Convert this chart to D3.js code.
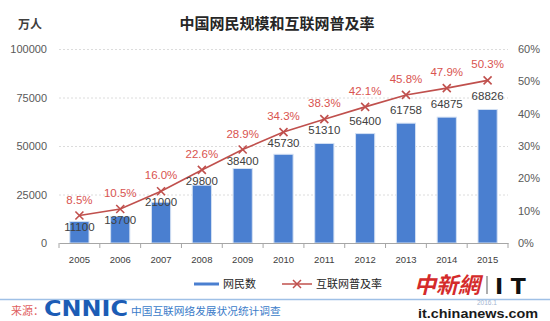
<!DOCTYPE html>
<html><head><meta charset="utf-8">
<script src="https://cdn.jsdelivr.net/npm/d3@7"></script>
<style>
body{margin:0;background:#fff;}
svg{display:block;font-family:"Liberation Sans",Arial,"Noto Sans CJK SC",sans-serif;}
.cjk{font-family:"Noto Sans CJK SC",sans-serif;}
</style></head><body>
<svg id="c" width="550" height="321"></svg>
<script>
const years = ["2005","2006","2007","2008","2009","2010","2011","2012","2013","2014","2015"];
const netizens = [11100,13700,21000,29800,38400,45730,51310,56400,61758,64875,68826];
const penetration = [8.5,10.5,16.0,22.6,28.9,34.3,38.3,42.1,45.8,47.9,50.3];
const leftTicks = [0,25000,50000,75000,100000];
const rightTicks = [0,10,20,30,40,50,60];

const svg = d3.select("#c");
const L = 59, R = 508, T = 49, B = 243;

const x = d3.scaleBand().domain(years).range([L, R]).paddingInner(0.53).paddingOuter(0.265);
const xb = d3.scaleBand().domain(years).range([L, R]);
const yL = d3.scaleLinear().domain([0,100000]).range([B, T]);
const yR = d3.scaleLinear().domain([0,60]).range([B, T]);

// title
svg.append("text").attr("class","cjk").attr("x",277).attr("y",29).attr("text-anchor","middle")
  .attr("font-size",15).attr("font-weight","bold").attr("fill","#262626").text("中国网民规模和互联网普及率");
svg.append("text").attr("class","cjk").attr("x",30).attr("y",29).attr("text-anchor","middle")
  .attr("font-size",12).attr("font-weight","bold").attr("fill","#404040").text("万人");

// gridlines
svg.append("g").selectAll("line").data(leftTicks.filter(d=>d>0)).join("line")
  .attr("x1",L).attr("x2",R).attr("y1",d=>yL(d)+0.5).attr("y2",d=>yL(d)+0.5)
  .attr("stroke","#dcdcdc").attr("stroke-dasharray","2,2");

// left axis
const gl = svg.append("g").attr("transform",`translate(${L},0)`)
  .call(d3.axisLeft(yL).tickValues(leftTicks).tickSize(0).tickPadding(12).tickFormat(d3.format("d")));
gl.select(".domain").remove();
gl.selectAll("text").attr("font-size",11).attr("fill","#595959").attr("font-family","Liberation Sans, Arial");

// right axis
const gr = svg.append("g").attr("transform",`translate(${R},0)`)
  .call(d3.axisRight(yR).tickValues(rightTicks).tickSize(0).tickPadding(10).tickFormat(d=>d+"%"));
gr.select(".domain").remove();
gr.selectAll("text").attr("font-size",11).attr("fill","#595959").attr("font-family","Liberation Sans, Arial");

// bars
svg.append("g").selectAll("rect").data(netizens).join("rect")
  .attr("x",(d,i)=>x(years[i])).attr("width",x.bandwidth())
  .attr("y",d=>yL(d)).attr("height",d=>B-yL(d))
  .attr("fill","#4a7fd0").attr("stroke","#d3e0f3").attr("stroke-width",1);

// x axis
const gx = svg.append("g").attr("transform",`translate(0,${B})`)
  .call(d3.axisBottom(xb).tickSize(0).tickPadding(13));
gx.select(".domain").attr("stroke","#a6a6a6");
gx.selectAll("text").attr("font-size",9.5).attr("fill","#404040").attr("font-family","Liberation Sans, Arial");
gx.append("g").selectAll("line").data(d3.range(years.length+1)).join("line")
  .attr("x1",i=>L+i*xb.step()).attr("x2",i=>L+i*xb.step()).attr("y1",0).attr("y2",5)
  .attr("stroke","#a6a6a6");

// line
const cx = i => x(years[i]) + x.bandwidth()/2;
const red = "#c0504d";
svg.append("path").datum(penetration)
  .attr("d", d3.line().x((d,i)=>cx(i)).y(d=>yR(d)))
  .attr("fill","none").attr("stroke",red).attr("stroke-width",1.6);
const m = 4;
svg.append("g").selectAll("path").data(penetration).join("path")
  .attr("d",(d,i)=>`M${cx(i)-m},${yR(d)-m}L${cx(i)+m},${yR(d)+m}M${cx(i)-m},${yR(d)+m}L${cx(i)+m},${yR(d)-m}`)
  .attr("stroke",red).attr("stroke-width",1.6);

// percent labels
svg.append("g").selectAll("text").data(penetration).join("text")
  .attr("x",(d,i)=>cx(i)).attr("y",d=>yR(d)-12).attr("text-anchor","middle")
  .attr("font-size",11.5).attr("fill","#d9534f").text(d=>d.toFixed(1)+"%");

// value labels (avoid line markers)
svg.append("g").selectAll("text").data(netizens).join("text")
  .attr("x",(d,i)=>cx(i))
  .attr("y",(d,i)=>Math.max(yL(d)-13, yR(penetration[i])+11)+4)
  .attr("text-anchor","middle").attr("font-size",11.5).attr("fill","#404040").text(d=>d);

// legend
const lg = svg.append("g");
lg.append("line").attr("x1",194).attr("x2",219).attr("y1",284).attr("y2",284).attr("stroke","#4a7fd0").attr("stroke-width",3);
lg.append("text").attr("class","cjk").attr("x",223).attr("y",288).attr("font-size",11).attr("fill","#262626").text("网民数");
lg.append("line").attr("x1",282).attr("x2",312).attr("y1",284).attr("y2",284).attr("stroke",red).attr("stroke-width",1.5);
lg.append("path").attr("d","M293,280L301,288M293,288L301,280").attr("stroke",red).attr("stroke-width",1.5);
lg.append("text").attr("class","cjk").attr("x",316).attr("y",288).attr("font-size",11).attr("fill","#262626").text("互联网普及率");

// footer
svg.append("line").attr("x1",0).attr("x2",550).attr("y1",299.5).attr("y2",299.5).attr("stroke","#9fc0e6").attr("stroke-width",1.5);
svg.append("text").attr("class","cjk").attr("x",11).attr("y",315).attr("font-size",11).attr("fill","#e06060").text("来源：");
svg.append("text").attr("x",44).attr("y",316).attr("font-size",21).attr("font-weight","900")
  .attr("font-family","DejaVu Sans, Liberation Sans").attr("fill","#1c5cb5").attr("textLength",84).attr("lengthAdjust","spacingAndGlyphs").text("CNNIC");
svg.append("text").attr("class","cjk").attr("x",131).attr("y",315).attr("font-size",10.7).attr("fill","#3b7cc9").text("中国互联网络发展状况统计调查");

svg.append("text").attr("x",477).attr("y",305).attr("font-size",6.5).attr("fill","#9fb4d0").text("2016.1");
svg.append("text").attr("x",418).attr("y",318).attr("font-size",13.5).attr("font-weight","bold").attr("fill","#1a1a1a")
  .attr("textLength",120).attr("lengthAdjust","spacingAndGlyphs").text("it.chinanews.com");
svg.append("text").attr("x",414).attr("y",293).attr("font-size",22).attr("font-weight","bold")
  .attr("font-family","Noto Sans CJK TC, Noto Sans CJK SC").attr("fill","#d42a2a").attr("font-style","italic").text("中新網");
svg.append("line").attr("x1",487).attr("x2",487).attr("y1",276).attr("y2",294).attr("stroke","#777").attr("stroke-width",1.2);
svg.append("text").attr("x",495).attr("y",294).attr("font-size",22).attr("font-weight","900").attr("fill","#111")
  .attr("font-family","DejaVu Sans").text("I T");
</script>
</body></html>
